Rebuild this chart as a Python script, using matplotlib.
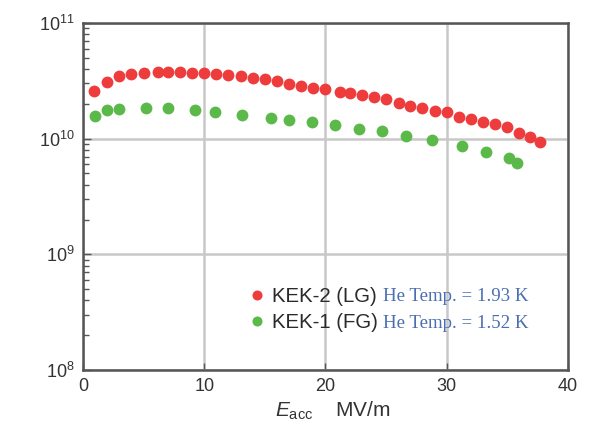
import numpy as np
import matplotlib
matplotlib.use('Agg')
import matplotlib.pyplot as plt
from matplotlib.ticker import LogLocator, FixedLocator

plt.rcParams['font.family'] = ['Liberation Sans', 'DejaVu Sans']
plt.rcParams['mathtext.fontset'] = 'custom'
plt.rcParams['mathtext.rm'] = 'Liberation Sans'
plt.rcParams['mathtext.it'] = 'Liberation Sans:italic'

# KEK-2 (LG), He 1.93 K
e_kek2 = [0.9, 2.0, 3.0, 4.0, 5.0, 6.2, 7.0, 8.0, 9.0, 10.0, 11.0, 12.0, 13.0, 14.0, 15.0,
          16.0, 17.0, 18.0, 19.0, 20.0, 21.2, 22.0, 23.0, 24.0, 25.0, 26.1, 27.0, 28.0,
          29.0, 30.0, 31.0, 32.0, 33.0, 34.0, 35.0, 36.0, 36.9, 37.7]
q_kek2 = [2.58e10, 3.11e10, 3.48e10, 3.62e10, 3.72e10, 3.77e10, 3.77e10, 3.75e10, 3.72e10,
          3.70e10, 3.62e10, 3.56e10, 3.48e10, 3.37e10, 3.26e10, 3.16e10, 2.97e10, 2.85e10,
          2.76e10, 2.67e10, 2.55e10, 2.50e10, 2.39e10, 2.28e10, 2.19e10, 2.02e10, 1.93e10,
          1.83e10, 1.75e10, 1.69e10, 1.55e10, 1.48e10, 1.40e10, 1.33e10, 1.25e10, 1.13e10,
          1.03e10, 9.3e9]

# KEK-1 (FG), He 1.52 K
e_kek1 = [1.0, 2.0, 3.0, 5.2, 7.0, 9.2, 10.9, 13.1, 15.5, 17.0, 18.9, 20.8, 22.8, 24.7,
          26.6, 28.8, 31.3, 33.2, 35.1, 35.8]
q_kek1 = [1.58e10, 1.77e10, 1.80e10, 1.85e10, 1.83e10, 1.77e10, 1.69e10, 1.60e10, 1.50e10,
          1.44e10, 1.38e10, 1.31e10, 1.21e10, 1.17e10, 1.06e10, 9.75e9, 8.65e9, 7.72e9,
          6.85e9, 6.2e9]

labels = ['KEK-2 (LG)', 'KEK-1 (FG)']
temps = ['He Temp. = 1.93 K', 'He Temp. = 1.52 K']
red = '#ee3b3b'
green = '#5bb94a'

fig = plt.figure(figsize=(6.11, 4.23), dpi=100)
ax = fig.add_axes([0.1358, 0.1253, 0.7938, 0.8203])

ax.plot(e_kek2, q_kek2, 'o', color=red, ms=8.5, mec='none', label=labels[0], zorder=3)
ax.plot(e_kek1, q_kek1, 'o', color=green, ms=8.5, mec='none', label=labels[1], zorder=3)

ax.set_yscale('log')
ax.set_xlim(0, 40)
ax.set_ylim(1e8, 1e11)
ax.set_xticks([0, 10, 20, 30, 40])
ax.yaxis.set_major_locator(FixedLocator([1e8, 1e9, 1e10, 1e11]))
ax.yaxis.set_minor_locator(LogLocator(base=10, subs=np.arange(2, 10), numticks=10))
ax.grid(True, which='major', color='#c8c8c8', lw=1.8)
ax.set_axisbelow(True)

for s in ax.spines.values():
    s.set_color('#555555')
    s.set_linewidth(1.8)
ax.tick_params(which='both', direction='in', colors='#555555', labelcolor='#333333')
ax.tick_params(axis='y', which='major', length=6, width=1, labelsize=13, pad=6)
ax.tick_params(axis='y', which='minor', length=4, width=1)
ax.tick_params(axis='x', which='major', length=5, width=1, labelsize=13, pad=6)

ax.set_xlabel(r'$\it{E}_{\rm acc}$    MV/m', fontsize=15, color='#333333', labelpad=3)
ax.xaxis.label.set_x(0.515)

leg = ax.legend(loc='center left', bbox_to_anchor=(246.5 / 611, 1 - 309.5 / 423),
                bbox_transform=fig.transFigure, frameon=False, fontsize=14.7,
                handlelength=1.0, handletextpad=0.235, labelspacing=0.32, borderpad=0,
                borderaxespad=0, markerscale=0.85)
for t in leg.get_texts():
    t.set_color('#2a2a2a')

for i, tmp in enumerate(temps):
    fig.text(383 / 611, 1 - (296 + 27 * i) / 423, tmp, family='Liberation Serif',
             fontsize=13.6, color='#4a6fb0', va='center', ha='left')

fig.savefig('out.png', dpi=100)
